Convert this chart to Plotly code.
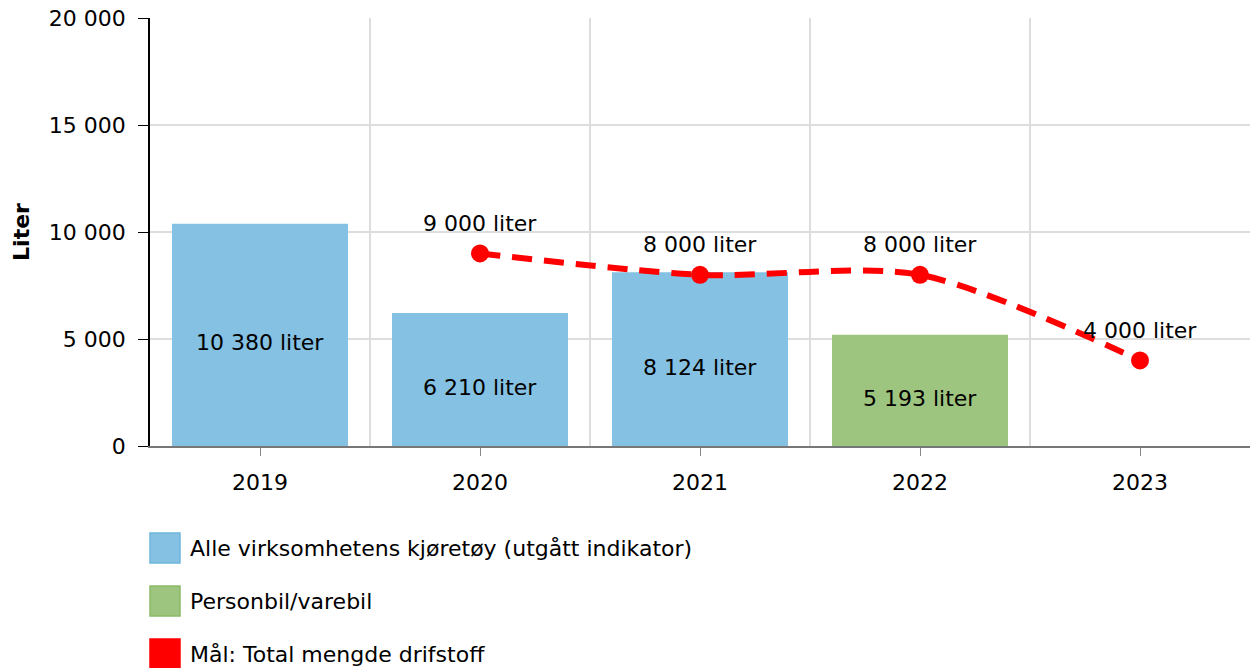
import plotly.graph_objects as go

years_all = [2019, 2020, 2021]
values_all = [10380, 6210, 8124]
years_car = [2022]
values_car = [5193]
years_goal = [2020, 2021, 2022, 2023]
values_goal = [9000, 8000, 8000, 4000]

legend_names = [
    "Alle virksomhetens kjøretøy (utgått indikator)",
    "Personbil/varebil",
    "Mål: Total mengde drifstoff",
]
legend_colors = ["#85c1e2", "#9dc57f", "#ff0000"]
legend_borders = ["#6fb5dc", "#8abb67", "#ff0000"]

FONT = "Verdana, DejaVu Sans, sans-serif"
FS = 22
PLOT_W = 1100
PLOT_H = 428


def fmt(v):
    return f"{v:,} liter".replace(",", " ")


fig = go.Figure()

fig.add_trace(go.Bar(
    x=years_all, y=values_all, width=0.8,
    marker=dict(color="#85c1e2", line=dict(width=0)),
    name=legend_names[0], hoverinfo="x+y",
))
fig.add_trace(go.Bar(
    x=years_car, y=values_car, width=0.8,
    marker=dict(color="#9dc57f", line=dict(width=0)),
    name=legend_names[1], hoverinfo="x+y",
))
fig.add_trace(go.Scatter(
    x=years_goal, y=values_goal, mode="lines+markers",
    line=dict(color="#ff0000", width=6, dash="20px,12px", shape="spline", smoothing=0.8),
    marker=dict(color="#ff0000", size=18),
    name=legend_names[2],
))

# labels in the middle of the bars
for xs, vs in ((years_all, values_all), (years_car, values_car)):
    for x, v in zip(xs, vs):
        fig.add_annotation(x=x, y=v / 2, text=fmt(v), showarrow=False,
                           yshift=-8, font=dict(size=FS, color="black", family=FONT))

# labels above the goal points
for x, v in zip(years_goal, values_goal):
    fig.add_annotation(x=x, y=v, text=fmt(v), showarrow=False,
                       yshift=30, font=dict(size=FS, color="black", family=FONT))

# manual legend with large squares
for i, (name, col, bcol) in enumerate(zip(legend_names, legend_colors, legend_borders)):
    yc = -(548 - 446) / PLOT_H - i * 53 / PLOT_H
    fig.add_shape(type="rect", xref="paper", yref="paper",
                  x0=0, x1=30 / PLOT_W, y0=yc - 15 / PLOT_H, y1=yc + 15 / PLOT_H,
                  fillcolor=col, line=dict(color=bcol, width=1.5))
    fig.add_annotation(xref="paper", yref="paper", x=38 / PLOT_W, y=yc,
                       text=name, showarrow=False, xanchor="left", yanchor="middle",
                       font=dict(size=FS, color="black", family=FONT))

fig.update_layout(
    width=1253, height=668,
    margin=dict(l=150, r=3, t=18, b=222, autoexpand=False),
    barmode="overlay",
    separators=", ",
    plot_bgcolor="white", paper_bgcolor="white",
    font=dict(family=FONT, size=FS, color="black"),
    showlegend=False,
)
fig.update_xaxes(
    range=[2018.5, 2023.5], tickvals=[2019, 2020, 2021, 2022, 2023],
    ticks="outside", ticklen=8, tickcolor="#888888", ticklabelstandoff=8,
    showgrid=False, showline=True, linecolor="#777777", linewidth=1.5,
    tickfont=dict(size=FS), zeroline=False,
    minor=dict(tickvals=[2019.5, 2020.5, 2021.5, 2022.5], showgrid=True,
               gridcolor="#dddddd", gridwidth=1.5, ticks=""),
)
fig.update_yaxes(
    range=[0, 20000], tickvals=[0, 5000, 10000, 15000, 20000],
    tickformat=",d", ticks="outside", ticklen=10, tickcolor="black",
    ticklabelstandoff=8, ticklabeloverflow="allow",
    showline=True, linecolor="black", linewidth=1.5,
    gridcolor="#dddddd", gridwidth=1.5, zeroline=False,
    title=dict(text="<b>Liter</b>", font=dict(size=FS), standoff=13),
    tickfont=dict(size=FS),
)

fig.write_html("out.html", config={"displayModeBar": False},
               post_script="document.body.style.margin = '0';")
